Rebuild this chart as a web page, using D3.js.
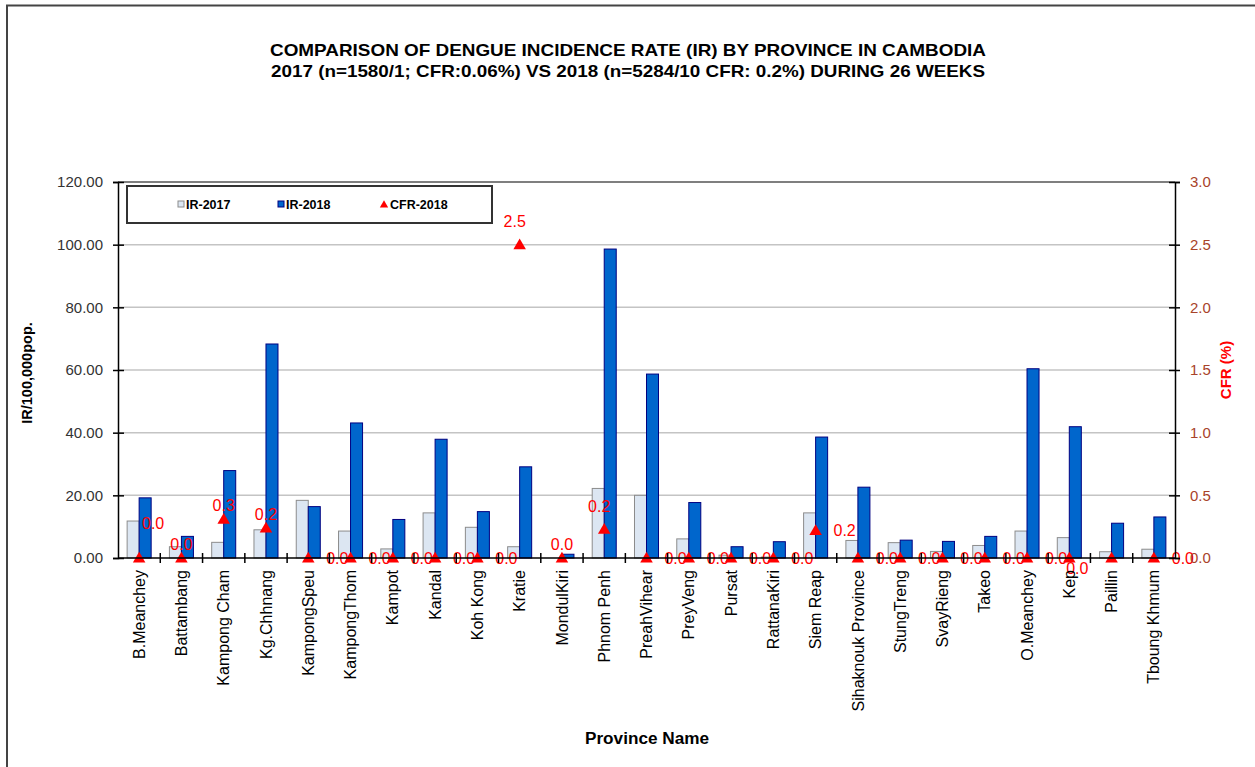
<!DOCTYPE html>
<html>
<head>
<meta charset="utf-8">
<script src="https://cdn.jsdelivr.net/npm/d3@7"></script>
<style>
  html, body { margin: 0; padding: 0; background: #fff; }
  svg { display: block; font-family: "Liberation Sans", Arial, sans-serif; }
</style>
</head>
<body>
<svg id="chart" width="1255" height="767"></svg>
<script>
const provinces = ["B.Meanchey","Battambang","Kampong Cham","Kg.Chhnang","KampongSpeu","KampongThom","Kampot","Kandal","Koh Kong","Kratie","MondulKiri","Phnom Penh","PreahVihear","PreyVeng","Pursat","RattanaKiri","Siem Reap","Sihaknouk Province","StungTreng","SvayRieng","Takeo","O.Meanchey","Kep","Paillin","Tboung Khmum"];
const ir2017 = [11.8, 3.6, 5.0, 9.0, 18.4, 8.6, 2.9, 14.4, 9.8, 3.6, 0.0, 22.2, 20.0, 6.1, 0.9, 0.3, 14.4, 5.6, 4.9, 2.1, 4.0, 8.6, 6.5, 2.0, 2.8];
const ir2018 = [19.2, 6.9, 27.9, 68.3, 16.4, 43.1, 12.3, 37.9, 14.8, 29.1, 1.2, 98.6, 58.7, 17.7, 3.6, 5.2, 38.6, 22.6, 5.7, 5.3, 6.9, 60.4, 41.9, 11.1, 13.1];
const cfr2018 = [0.0, 0.0, 0.31, 0.24, 0.0, 0.0, 0.0, 0.0, 0.0, 2.5, 0.0, 0.23, 0.0, 0.0, 0.0, 0.0, 0.22, 0.0, 0.0, 0.0, 0.0, 0.0, 0.0, 0.0, 0.0];
const cfrLabelPlacement = ["aboveright","above","above","above","right","right","right","right","right","high","above","high","right","right","right","right","right","right","right","right","right","right","belowright","none","right"];
const irTicks = [0, 20, 40, 60, 80, 100, 120];
const cfrTicks = [0, 0.5, 1.0, 1.5, 2.0, 2.5, 3.0];
const titleLines = ["COMPARISON OF DENGUE INCIDENCE RATE (IR) BY PROVINCE IN CAMBODIA",
                    "2017 (n=1580/1; CFR:0.06%) VS 2018 (n=5284/10 CFR: 0.2%) DURING 26 WEEKS"];
const seriesNames = ["IR-2017", "IR-2018", "CFR-2018"];

const svg = d3.select("#chart");
const L = 118, R = 1175, T = 182, B = 558;

// frame
svg.append("path").attr("d", "M7,767 V5.5 H1255").attr("fill", "none")
   .attr("stroke", "#444").attr("stroke-width", 2);

// title
const title = svg.append("text").attr("text-anchor", "middle").attr("font-weight", "bold")
   .attr("font-size", 16.5).attr("fill", "#000");
title.append("tspan").attr("x", 628).attr("y", 56).attr("textLength", 716)
   .attr("lengthAdjust", "spacingAndGlyphs").text(titleLines[0]);
title.append("tspan").attr("x", 628).attr("y", 77).attr("textLength", 714)
   .attr("lengthAdjust", "spacingAndGlyphs").text(titleLines[1]);

const x = d3.scaleBand().domain(provinces).range([L, R]).paddingInner(0).paddingOuter(0);
const xs = d3.scaleBand().domain(["2017", "2018"]).range([0, x.bandwidth()]).paddingInner(0).paddingOuter(0.76);
const y = d3.scaleLinear().domain([0, 120]).range([B, T]);
const yR = d3.scaleLinear().domain([0, 3]).range([B, T]);

// gridlines
svg.append("g").selectAll("line").data(irTicks.filter(t => t > 0 && t < 120)).join("line")
   .attr("x1", L).attr("x2", R).attr("y1", d => y(d)).attr("y2", d => y(d))
   .attr("stroke", "#c4c4c4").attr("stroke-width", 1.5);
svg.append("line").attr("x1", L).attr("x2", R).attr("y1", T).attr("y2", T)
   .attr("stroke", "#555").attr("stroke-width", 1.5);

// bars
const data = provinces.map((p, i) => ({ p, a: ir2017[i], b: ir2018[i], c: cfr2018[i], pl: cfrLabelPlacement[i] }));
const g = svg.append("g");
g.selectAll("rect.a").data(data).join("rect").attr("class", "a")
  .attr("x", d => x(d.p) + xs("2017")).attr("width", xs.bandwidth())
  .attr("y", d => y(d.a)).attr("height", d => B - y(d.a))
  .attr("fill", "#dce6f2").attr("stroke", "#8c8c8c").attr("stroke-width", 1);
g.selectAll("rect.b").data(data).join("rect").attr("class", "b")
  .attr("x", d => x(d.p) + xs("2018")).attr("width", xs.bandwidth())
  .attr("y", d => y(d.b)).attr("height", d => B - y(d.b))
  .attr("fill", "#0066cc").attr("stroke", "#000080").attr("stroke-width", 1);

// left axis
const yAxis = d3.axisLeft(y).tickValues(irTicks).tickFormat(d3.format(".2f")).tickSize(5).tickPadding(10);
const ga = svg.append("g").attr("transform", `translate(${L},0)`).call(yAxis);
ga.select(".domain").attr("stroke", "#000").attr("stroke-width", 1.5);
ga.selectAll(".tick line").attr("stroke", "#000").attr("stroke-width", 1.5).attr("x2", 6).attr("x1", -5);
ga.selectAll(".tick text").attr("font-size", 15).attr("fill", "#333").attr("font-family", "Liberation Sans, Arial, sans-serif");

// right axis
const yAxisR = d3.axisRight(yR).tickValues(cfrTicks).tickFormat(d3.format(".1f")).tickSize(5).tickPadding(10);
const gr = svg.append("g").attr("transform", `translate(${R},0)`).call(yAxisR);
gr.select(".domain").attr("stroke", "#000").attr("stroke-width", 1.5);
gr.selectAll(".tick line").attr("stroke", "#000").attr("stroke-width", 1.5).attr("x1", -6).attr("x2", 5);
gr.selectAll(".tick text").attr("font-size", 15).attr("fill", "#a8432a").attr("font-family", "Liberation Sans, Arial, sans-serif");

// x axis
svg.append("line").attr("x1", L).attr("x2", R).attr("y1", B).attr("y2", B)
   .attr("stroke", "#000").attr("stroke-width", 1.5);
svg.append("g").selectAll("line").data(provinces.slice(1)).join("line")
   .attr("x1", d => x(d)).attr("x2", d => x(d)).attr("y1", B - 5).attr("y2", B + 5)
   .attr("stroke", "#000").attr("stroke-width", 1.5);
svg.append("g").selectAll("text").data(provinces).join("text")
   .attr("transform", d => `translate(${x(d) + x.bandwidth() / 2},570) rotate(-90)`)
   .attr("text-anchor", "end").attr("dy", "0.35em").attr("font-size", 16).attr("fill", "#000")
   .text(d => d);

// CFR markers
const tri = d3.symbol(d3.symbolTriangle).size(68);
g.selectAll("path.m").data(data).join("path").attr("class", "m")
  .attr("d", tri).attr("transform", d => `translate(${x(d.p) + x.bandwidth() / 2},${yR(d.c) + 1})`)
  .attr("fill", "#ff0000");

const offs = { right: [29, 0], above: [0, -14], high: [-5, -23], aboveright: [14, -35], belowright: [8, 10] };
g.selectAll("text.lab").data(data.filter(d => d.pl !== "none")).join("text").attr("class", "lab")
  .attr("x", d => x(d.p) + x.bandwidth() / 2 + offs[d.pl][0])
  .attr("y", d => yR(d.c) + offs[d.pl][1])
  .attr("dy", "0.35em").attr("text-anchor", "middle").attr("font-size", 16).attr("fill", "#ff0000")
  .text(d => d3.format(".1f")(d.c));

// axis titles
svg.append("text").attr("transform", "translate(32,373) rotate(-90)").attr("text-anchor", "middle")
   .attr("font-weight", "bold").attr("font-size", 14.5).attr("fill", "#000").text("IR/100,000pop.");
svg.append("text").attr("transform", "translate(1231,370) rotate(-90)").attr("text-anchor", "middle")
   .attr("font-weight", "bold").attr("font-size", 15).attr("fill", "#ff0000").text("CFR (%)");
svg.append("text").attr("x", 647).attr("y", 744).attr("text-anchor", "middle")
   .attr("font-weight", "bold").attr("font-size", 16).attr("textLength", 124).attr("lengthAdjust", "spacingAndGlyphs")
   .attr("fill", "#000").text("Province Name");

// legend
const lg = svg.append("g");
lg.append("rect").attr("x", 127).attr("y", 186).attr("width", 365).attr("height", 37)
  .attr("fill", "#fff").attr("stroke", "#333").attr("stroke-width", 2);
const lx = [178, 278, 380];
lg.append("rect").attr("x", lx[0]).attr("y", 201).attr("width", 6).attr("height", 6)
  .attr("fill", "#dce6f2").attr("stroke", "#8c8c8c");
lg.append("rect").attr("x", lx[1]).attr("y", 201).attr("width", 6).attr("height", 6)
  .attr("fill", "#0066cc").attr("stroke", "#000080");
lg.append("path").attr("d", d3.symbol(d3.symbolTriangle).size(30)).attr("transform", `translate(${lx[2] + 4},205)`)
  .attr("fill", "#ff0000");
lg.selectAll("text").data(seriesNames).join("text")
  .attr("x", (d, i) => lx[i] + (i === 2 ? 10 : 8)).attr("y", 209)
  .attr("font-weight", "bold").attr("font-size", 12.5).attr("fill", "#000").text(d => d);
</script>
</body>
</html>
